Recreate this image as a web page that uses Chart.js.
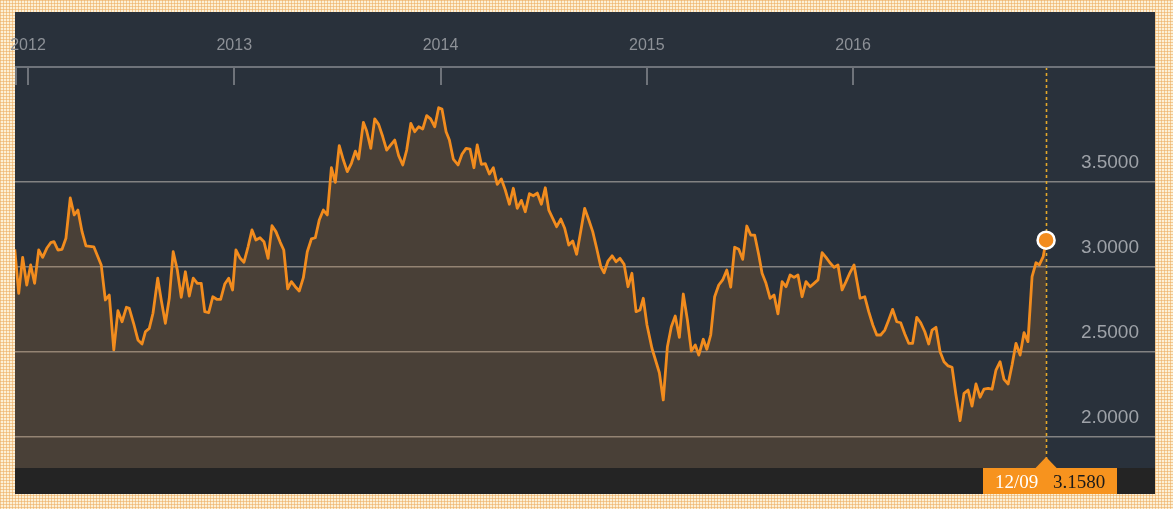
<!DOCTYPE html>
<html>
<head>
<meta charset="utf-8">
<script src="https://cdn.jsdelivr.net/npm/chart.js@4.4.1/dist/chart.umd.min.js"></script>
<style>
  html, body { margin:0; padding:0; width:1173px; height:509px; overflow:hidden; }
  body {
    background-color:#fcf0d6;
    background-image:
      linear-gradient(90deg, rgba(238,175,100,0.6) 1px, transparent 1px),
      linear-gradient(rgba(238,175,100,0.6) 1px, transparent 1px);
    background-size:3px 3px;
  }
  canvas { display:block; }
</style>
</head>
<body>
<canvas id="c" width="1173" height="509"></canvas>
<script>
// ---- data (decimal year, yield %) ----
const dates = [
 2011.936,2011.955,2011.974,2011.994,2012.013,2012.032,2012.052,2012.071,2012.091,2012.110,
 2012.126,2012.145,2012.165,2012.184,2012.205,2012.224,2012.242,2012.262,2012.281,2012.319,
 2012.355,2012.375,2012.394,2012.416,2012.436,2012.456,2012.477,2012.491,2012.512,2012.533,
 2012.553,2012.569,2012.588,2012.606,2012.629,2012.646,2012.666,2012.685,2012.704,2012.724,
 2012.743,2012.763,2012.782,2012.801,2012.821,2012.840,2012.857,2012.876,2012.896,2012.915,
 2012.934,2012.954,2012.973,2012.992,2013.008,2013.029,2013.047,2013.067,2013.086,2013.105,
 2013.125,2013.144,2013.164,2013.183,2013.202,2013.223,2013.240,2013.259,2013.277,2013.296,
 2013.315,2013.335,2013.354,2013.374,2013.393,2013.412,2013.432,2013.451,2013.471,2013.490,
 2013.509,2013.529,2013.548,2013.568,2013.587,2013.603,2013.626,2013.642,2013.662,2013.681,
 2013.700,2013.720,2013.739,2013.759,2013.778,2013.797,2013.817,2013.836,2013.856,2013.875,
 2013.894,2013.914,2013.933,2013.952,2013.972,2013.991,2014.007,2014.027,2014.043,2014.062,
 2014.085,2014.104,2014.124,2014.143,2014.162,2014.178,2014.198,2014.217,2014.237,2014.256,
 2014.275,2014.295,2014.314,2014.334,2014.353,2014.372,2014.392,2014.411,2014.431,2014.450,
 2014.469,2014.489,2014.508,2014.525,2014.544,2014.563,2014.583,2014.602,2014.622,2014.641,
 2014.660,2014.680,2014.699,2014.719,2014.738,2014.757,2014.777,2014.793,2014.812,2014.832,
 2014.851,2014.870,2014.890,2014.909,2014.928,2014.948,2014.967,2014.983,2015.001,2015.025,
 2015.061,2015.080,2015.100,2015.119,2015.138,2015.158,2015.177,2015.197,2015.216,2015.235,
 2015.252,2015.274,2015.291,2015.310,2015.329,2015.349,2015.368,2015.388,2015.407,2015.426,
 2015.446,2015.465,2015.485,2015.504,2015.523,2015.543,2015.559,2015.578,2015.598,2015.617,
 2015.636,2015.656,2015.675,2015.695,2015.714,2015.733,2015.753,2015.772,2015.792,2015.811,
 2015.830,2015.850,2015.869,2015.888,2015.908,2015.927,2015.947,2015.966,2015.985,2016.005,
 2016.015,2016.034,2016.057,2016.076,2016.096,2016.115,2016.134,2016.154,2016.173,2016.192,
 2016.212,2016.231,2016.251,2016.270,2016.289,2016.309,2016.328,2016.348,2016.367,2016.383,
 2016.402,2016.422,2016.441,2016.461,2016.480,2016.499,2016.519,2016.538,2016.558,2016.577,
 2016.596,2016.616,2016.635,2016.655,2016.674,2016.693,2016.713,2016.732,2016.752,2016.771,
 2016.790,2016.810,2016.829,2016.848,2016.868,2016.887,2016.903,2016.922,2016.936
];
const yields = [
 3.104,2.845,3.057,2.894,3.012,2.904,3.100,3.057,3.110,3.143,
 3.149,3.100,3.104,3.169,3.406,3.306,3.335,3.208,3.124,3.119,
 3.012,2.806,2.835,2.512,2.743,2.678,2.763,2.757,2.669,2.571,
 2.547,2.619,2.639,2.728,2.934,2.806,2.669,2.816,3.090,2.982,
 2.822,2.972,2.829,2.934,2.904,2.904,2.737,2.731,2.825,2.810,
 2.810,2.900,2.934,2.865,3.100,3.051,3.028,3.119,3.218,3.159,
 3.172,3.149,3.051,3.243,3.208,3.145,3.100,2.871,2.914,2.884,
 2.859,2.937,3.090,3.165,3.172,3.276,3.335,3.306,3.584,3.498,
 3.714,3.629,3.561,3.610,3.682,3.635,3.851,3.800,3.698,3.871,
 3.839,3.766,3.688,3.718,3.747,3.655,3.600,3.688,3.845,3.796,
 3.825,3.812,3.890,3.871,3.825,3.937,3.929,3.796,3.747,3.635,
 3.600,3.663,3.698,3.694,3.584,3.718,3.604,3.608,3.547,3.584,
 3.486,3.518,3.453,3.369,3.463,3.345,3.392,3.325,3.431,3.419,
 3.435,3.369,3.466,3.335,3.286,3.237,3.282,3.228,3.129,3.153,
 3.075,3.212,3.345,3.276,3.208,3.110,3.002,2.966,3.035,3.066,
 3.031,3.051,3.016,2.884,2.963,2.737,2.747,2.816,2.659,2.522,
 2.378,2.218,2.531,2.649,2.712,2.586,2.841,2.688,2.506,2.541,
 2.482,2.575,2.516,2.600,2.825,2.894,2.924,2.982,2.881,3.116,
 3.104,3.045,3.241,3.188,3.188,3.071,2.963,2.904,2.816,2.835,
 2.724,2.914,2.884,2.953,2.939,2.953,2.825,2.914,2.884,2.904,
 2.924,3.084,3.057,3.025,2.998,3.012,2.865,2.914,2.966,3.012,
 2.943,2.816,2.825,2.737,2.659,2.600,2.600,2.629,2.688,2.751,
 2.678,2.672,2.606,2.551,2.551,2.704,2.672,2.619,2.547,2.629,
 2.645,2.502,2.443,2.418,2.410,2.247,2.096,2.257,2.276,2.182,
 2.312,2.234,2.281,2.286,2.281,2.394,2.443,2.339,2.312,2.424,
 2.551,2.482,2.614,2.561,2.943,3.025,3.012,3.061,3.158
];
const yearTicks  = [2012, 2013, 2014, 2015, 2016];
const yearLabels = ['2012', '2013', '2014', '2015', '2016'];
const yTicks      = [2.0, 2.5, 3.0, 3.5];
const yTickLabels = ['2.0000', '2.5000', '3.0000', '3.5000'];
const lastDateLabel  = '12/09';
const lastValueLabel = '3.1580';

// ---- styles ----
const ORANGE = '#f28c1e';
const PANEL = '#29313b';

const points = dates.map((d, i) => ({ x: d, y: yields[i] }));
const lastIdx = points.length - 1;

const decor = {
  id: 'decor',
  beforeDraw(chart) {
    const ctx = chart.ctx;
    ctx.save();
    ctx.fillStyle = PANEL;
    ctx.fillRect(15, 12, 1140, 482);
    ctx.restore();
  },
  beforeDatasetsDraw(chart) {
    const ctx = chart.ctx;
    const xs = chart.scales.x, a = chart.chartArea;
    const px = Math.round(xs.getPixelForValue(dates[lastIdx])) + 0.5;
    ctx.save();
    ctx.strokeStyle = '#e5a82a';
    ctx.lineWidth = 1.6;
    ctx.setLineDash([3, 3]);
    ctx.beginPath();
    ctx.moveTo(px, a.top);
    ctx.lineTo(px, a.bottom);
    ctx.stroke();
    ctx.restore();
  },
  afterDraw(chart) {
    const ctx = chart.ctx;
    const xs = chart.scales.x, ys = chart.scales.y, a = chart.chartArea;
    ctx.save();
    ctx.strokeStyle = '#6e737a';
    ctx.lineWidth = 2;
    ctx.beginPath();
    ctx.moveTo(a.left, a.top);
    ctx.lineTo(a.right, a.top);
    ctx.stroke();
    const tickXs = [xs.min].concat(yearTicks);
    tickXs.forEach(v => {
      const x = Math.round(xs.getPixelForValue(v)) + (v === xs.min ? 1 : 0);
      ctx.beginPath();
      ctx.moveTo(x, a.top);
      ctx.lineTo(x, a.top + 18);
      ctx.stroke();
    });
    ctx.fillStyle = '#8d9197';
    ctx.font = '16px "Liberation Sans", Arial, sans-serif';
    ctx.textAlign = 'center';
    ctx.textBaseline = 'middle';
    yearTicks.forEach((v, i) => {
      ctx.fillText(yearLabels[i], xs.getPixelForValue(v), a.top - 21);
    });
    ctx.fillStyle = '#9ea2a8';
    ctx.font = '19px "Liberation Sans", Arial, sans-serif';
    ctx.textAlign = 'right';
    yTicks.forEach((v, i) => {
      ctx.fillText(yTickLabels[i], 1139, ys.getPixelForValue(v) - 19);
    });
    ctx.fillStyle = '#242424';
    ctx.fillRect(15, a.bottom, 1140, 494 - a.bottom);
    const px = xs.getPixelForValue(dates[lastIdx]);
    ctx.fillStyle = '#f7931e';
    ctx.fillRect(983, a.bottom, 134, 494 - a.bottom);
    ctx.beginPath();
    ctx.moveTo(px - 11, a.bottom + 0.5);
    ctx.lineTo(px, a.bottom - 11);
    ctx.lineTo(px + 11, a.bottom + 0.5);
    ctx.closePath();
    ctx.fill();
    ctx.font = '19px "Liberation Serif", "DejaVu Serif", serif';
    ctx.textAlign = 'left';
    ctx.textBaseline = 'alphabetic';
    ctx.fillStyle = '#ffffff';
    ctx.fillText(lastDateLabel, 995, 488);
    ctx.fillStyle = '#1a1a1a';
    ctx.fillText(lastValueLabel, 1053, 488);
    ctx.restore();
  }
};

new Chart(document.getElementById('c'), {
  type: 'line',
  data: {
    datasets: [{
      data: points,
      borderColor: ORANGE,
      borderWidth: 2.8,
      borderJoinStyle: 'round',
      tension: 0,
      fill: 'start',
      backgroundColor: 'rgba(242,145,40,0.16)',
      pointRadius: points.map((p, i) => i === lastIdx ? 8.5 : 0),
      pointHoverRadius: 0,
      pointBackgroundColor: ORANGE,
      pointBorderColor: '#ffffff',
      pointBorderWidth: 2.5
    }]
  },
  options: {
    responsive: false,
    animation: false,
    events: [],
    layout: { padding: { left: 15, right: 18, top: 67, bottom: 41 } },
    plugins: { legend: { display: false }, tooltip: { enabled: false } },
    scales: {
      x: {
        type: 'linear',
        min: 2011.937,
        max: 2017.464,
        display: true,
        grid: { display: false },
        border: { display: false },
        ticks: { display: false },
        afterFit(s) { s.height = 0; }
      },
      y: {
        type: 'linear',
        min: 1.8176,
        max: 4.1765,
        display: true,
        position: 'right',
        afterBuildTicks(s) { s.ticks = yTicks.map(v => ({ value: v })); },
        grid: { color: 'rgba(160,158,155,0.75)', lineWidth: 1.5, drawTicks: false },
        border: { display: false },
        ticks: { display: false },
        afterFit(s) { s.width = 0; }
      }
    }
  },
  plugins: [decor]
});
</script>
</body>
</html>
